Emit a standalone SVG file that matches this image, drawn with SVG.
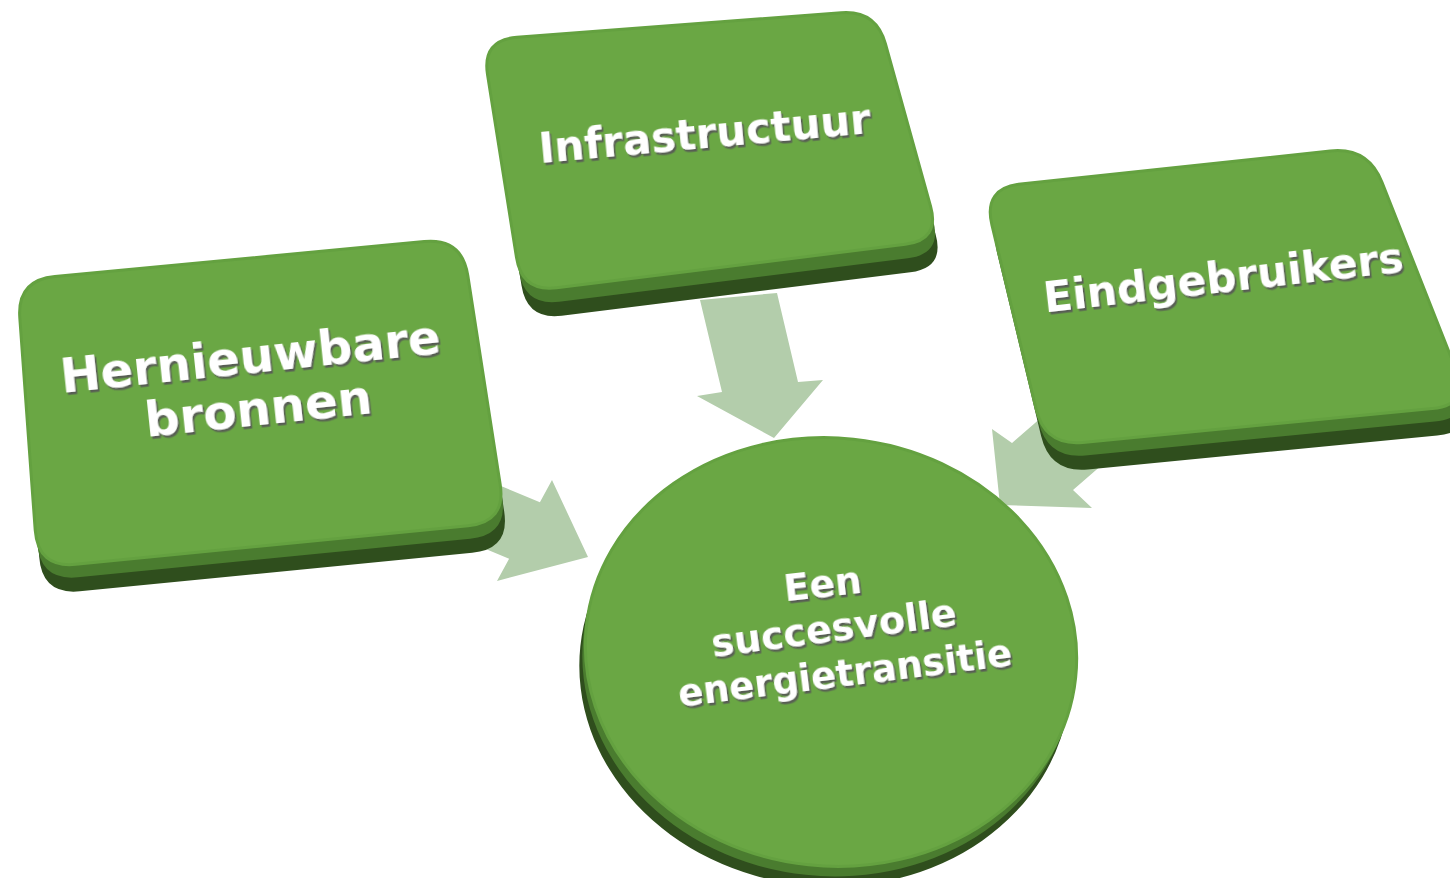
<svg xmlns="http://www.w3.org/2000/svg" xmlns:xlink="http://www.w3.org/1999/xlink" width="1450" height="878" viewBox="0 0 1450 878">
  <style>
    .face { fill: #6aa744; stroke: #64a140; stroke-width: 3; }
    .side-mid { fill: #4a7c2f; }
    .side-low { fill: #2f4e1d; }
    .arrow { fill: #b3cdab; }
    .label { font-family: "DejaVu Sans", Verdana, sans-serif; font-weight: bold; fill: #ffffff; text-anchor: middle; filter: url(#txtShadow); }
  </style>
  <defs>
    <filter id="txtShadow" x="-10%" y="-40%" width="120%" height="180%">
      <feDropShadow dx="1.6" dy="2.6" stdDeviation="0.7" flood-color="#555555" flood-opacity="0.9"/>
    </filter>
    <!-- top faces of the three tilted blocks and the disc -->
    <path id="faceInfra" d="M 487.5,74.5 Q 482,40 516.9,37.3 L 841.1,12.7 Q 876,10 885.4,43.7 L 930.6,206.3 Q 940,240 905.3,244.3 L 556.7,287.7 Q 522,292 516.5,257.5 Z"/>
    <path id="faceRenew" d="M 19.8,317.9 Q 17,280 54.8,276.4 L 424.2,241.6 Q 462,238 467.8,275.5 L 500.2,484.5 Q 506,522 468.2,525.7 L 75.8,564.3 Q 38,568 35.2,530.1 Z"/>
    <path id="faceUsers" d="M 991.9,225 Q 983,188 1020.8,184 L 1330.2,151 Q 1368,147 1382,182.3 L 1456,369.7 Q 1470,405 1432.2,408.6 L 1082.8,442.4 Q 1045,446 1036.1,409 Z"/>
    <ellipse id="faceGoal" cx="831" cy="652" rx="246" ry="214" transform="rotate(6 831 652)"/>
  </defs>

  <!-- connectors: broad block arrows pointing at the disc -->
  <g id="connectors">
    <polygon class="arrow" points="700,300 722,392 697,396 774,438 823,380 798,382 777,293"/>
    <polygon class="arrow" points="447.6,463.7 539.9,502.2 552,480 588,557 497,581 509.1,558.8 416.8,520.3"/>
    <polygon class="arrow" points="1087.5,377.4 1012,443 992,429 1000,505 1092,508 1073,490 1148.5,424.4"/>
  </g>

  <g id="node-goal">
    <use xlink:href="#faceGoal" class="side-low" transform="translate(-6,20)"/>
    <use xlink:href="#faceGoal" class="side-mid" transform="translate(-3,10)"/>
    <use xlink:href="#faceGoal" class="face"/>
    <text class="label" font-size="37" x="824" y="597" textLength="78" lengthAdjust="spacingAndGlyphs" transform="rotate(-6.4 824 597)">Een</text>
    <text class="label" font-size="37" x="835.5" y="641" textLength="247" lengthAdjust="spacingAndGlyphs" transform="rotate(-7.4 835.5 641)">succesvolle</text>
    <text class="label" font-size="37" x="846.5" y="686" textLength="336" lengthAdjust="spacingAndGlyphs" transform="rotate(-7.1 846.5 686)">energietransitie</text>
  </g>

  <g id="node-infrastructuur">
    <use xlink:href="#faceInfra" class="side-low" transform="translate(5,28)"/>
    <use xlink:href="#faceInfra" class="side-mid" transform="translate(2.5,14)"/>
    <use xlink:href="#faceInfra" class="face"/>
    <text class="label" font-size="42" x="706" y="148" textLength="333" lengthAdjust="spacingAndGlyphs" transform="rotate(-5.2 706 148)">Infrastructuur</text>
  </g>

  <g id="node-hernieuwbare">
    <use xlink:href="#faceRenew" class="side-low" transform="translate(4,27)"/>
    <use xlink:href="#faceRenew" class="side-mid" transform="translate(2,13)"/>
    <use xlink:href="#faceRenew" class="face"/>
    <text class="label" font-size="48" x="252" y="373" textLength="382" lengthAdjust="spacingAndGlyphs" transform="rotate(-6 252 373)">Hernieuwbare</text>
    <text class="label" font-size="48" x="260" y="425" textLength="228" lengthAdjust="spacingAndGlyphs" transform="rotate(-6 260 425)">bronnen</text>
  </g>

  <g id="node-eindgebruikers">
    <use xlink:href="#faceUsers" class="side-low" transform="translate(5,27)"/>
    <use xlink:href="#faceUsers" class="side-mid" transform="translate(2.5,13)"/>
    <use xlink:href="#faceUsers" class="face"/>
    <text class="label" font-size="43" x="1225" y="292.5" textLength="362" lengthAdjust="spacingAndGlyphs" transform="rotate(-6.5 1225 292.5)">Eindgebruikers</text>
  </g>
</svg>
